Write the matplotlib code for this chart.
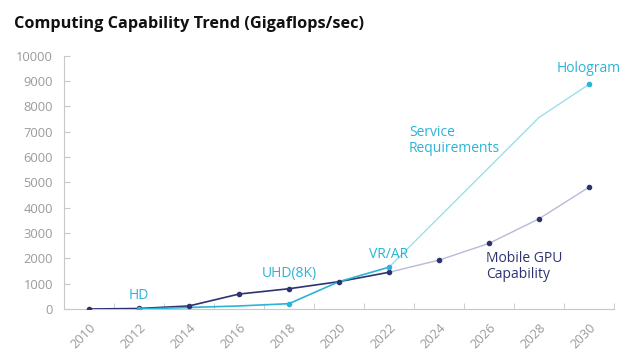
import matplotlib
matplotlib.use("Agg")
import matplotlib.pyplot as plt
from matplotlib.ticker import FixedLocator

# data
years_gpu = [2010, 2012, 2014, 2016, 2018, 2020, 2022, 2024, 2026, 2028, 2030]
gpu = [0, 20, 120, 590, 800, 1080, 1450, 1930, 2590, 3560, 4810]

years_srv = [2012, 2014, 2016, 2018, 2020, 2022, 2028, 2030]
service = [0, 60, 120, 210, 1080, 1650, 7560, 8870]

label_years = list(range(2010, 2031, 2))
marked_srv = [2012, 2018, 2022, 2030]

navy = "#2e3370"
navy_light = "#b9b9da"
cyan = "#2ab4d6"
cyan_light = "#93dcec"
grey = "#9a9a9a"

plt.rcParams["font.family"] = ["Open Sans", "DejaVu Sans"]

fig = plt.figure(figsize=(6.4, 3.62), dpi=100)
ax = fig.add_axes([64 / 640, 1 - 309 / 362, 550 / 640, (309 - 55.7) / 362])

# split lines at 2022: solid history, lighter projection
cut_g = years_gpu.index(2022)
cut_s = years_srv.index(2022)

ax.plot(years_gpu[:cut_g + 1], gpu[:cut_g + 1], color=navy, lw=1.2, zorder=3)
ax.plot(years_gpu[cut_g:], gpu[cut_g:], color=navy_light, lw=1.0, zorder=2)
ax.plot(years_srv[:cut_s + 1], service[:cut_s + 1], color=cyan, lw=1.2, zorder=3)
ax.plot(years_srv[cut_s:], service[cut_s:], color=cyan_light, lw=0.9, zorder=2)

ax.plot(years_gpu, gpu, ls="none", marker="o", ms=3, color=navy, zorder=4)
ms_x = [y for y in years_srv if y in marked_srv]
ms_y = [v for y, v in zip(years_srv, service) if y in marked_srv]
ax.plot(ms_x, ms_y, ls="none", marker="o", ms=3, color=cyan, zorder=5)

ax.set_xlim(2009, 2031)
ax.set_ylim(0, 10000)
ax.set_yticks(range(0, 10001, 1000))
ax.set_xticks(label_years)
ax.xaxis.set_minor_locator(FixedLocator(list(range(2009, 2032, 2))))
ax.set_xticklabels([str(y) for y in label_years], rotation=45, ha="right",
                   va="top", rotation_mode="anchor")
ax.tick_params(axis="x", which="major", length=0, pad=9, labelsize=9.3, labelcolor=grey)
ax.tick_params(axis="x", which="minor", length=4, direction="in", color="#c8c8c8")
ax.tick_params(axis="y", length=4, direction="in", color="#c8c8c8", pad=8,
               labelsize=9.3, labelcolor=grey)

for s in ["top", "right"]:
    ax.spines[s].set_visible(False)
for s in ["left", "bottom"]:
    ax.spines[s].set_color("#c8c8c8")
    ax.spines[s].set_linewidth(0.8)

# annotations
ax.text(2012, 250, "HD", color=cyan, fontsize=10, ha="center", va="bottom")
ax.text(2018, 1100, "UHD(8K)", color=cyan, fontsize=10, ha="center", va="bottom")
ax.text(2022, 1850, "VR/AR", color=cyan, fontsize=10, ha="center", va="bottom")
ax.text(2030, 9200, "Hologram", color=cyan, fontsize=10, ha="center", va="bottom")
ax.text(2022.8, 6050, "Service\nRequirements", color=cyan, fontsize=10,
        ha="left", va="bottom", linespacing=1.1)
ax.text(2025.9, 1050, "Mobile GPU\nCapability", color=navy, fontsize=10,
        ha="left", va="bottom", linespacing=1.1)

fig.text(14 / 640, 1 - 24 / 362, "Computing Capability Trend (Gigaflops/sec)",
         fontsize=11.7, fontweight="bold", color="#111111", ha="left", va="center")

fig.savefig("out.png", dpi=100)
